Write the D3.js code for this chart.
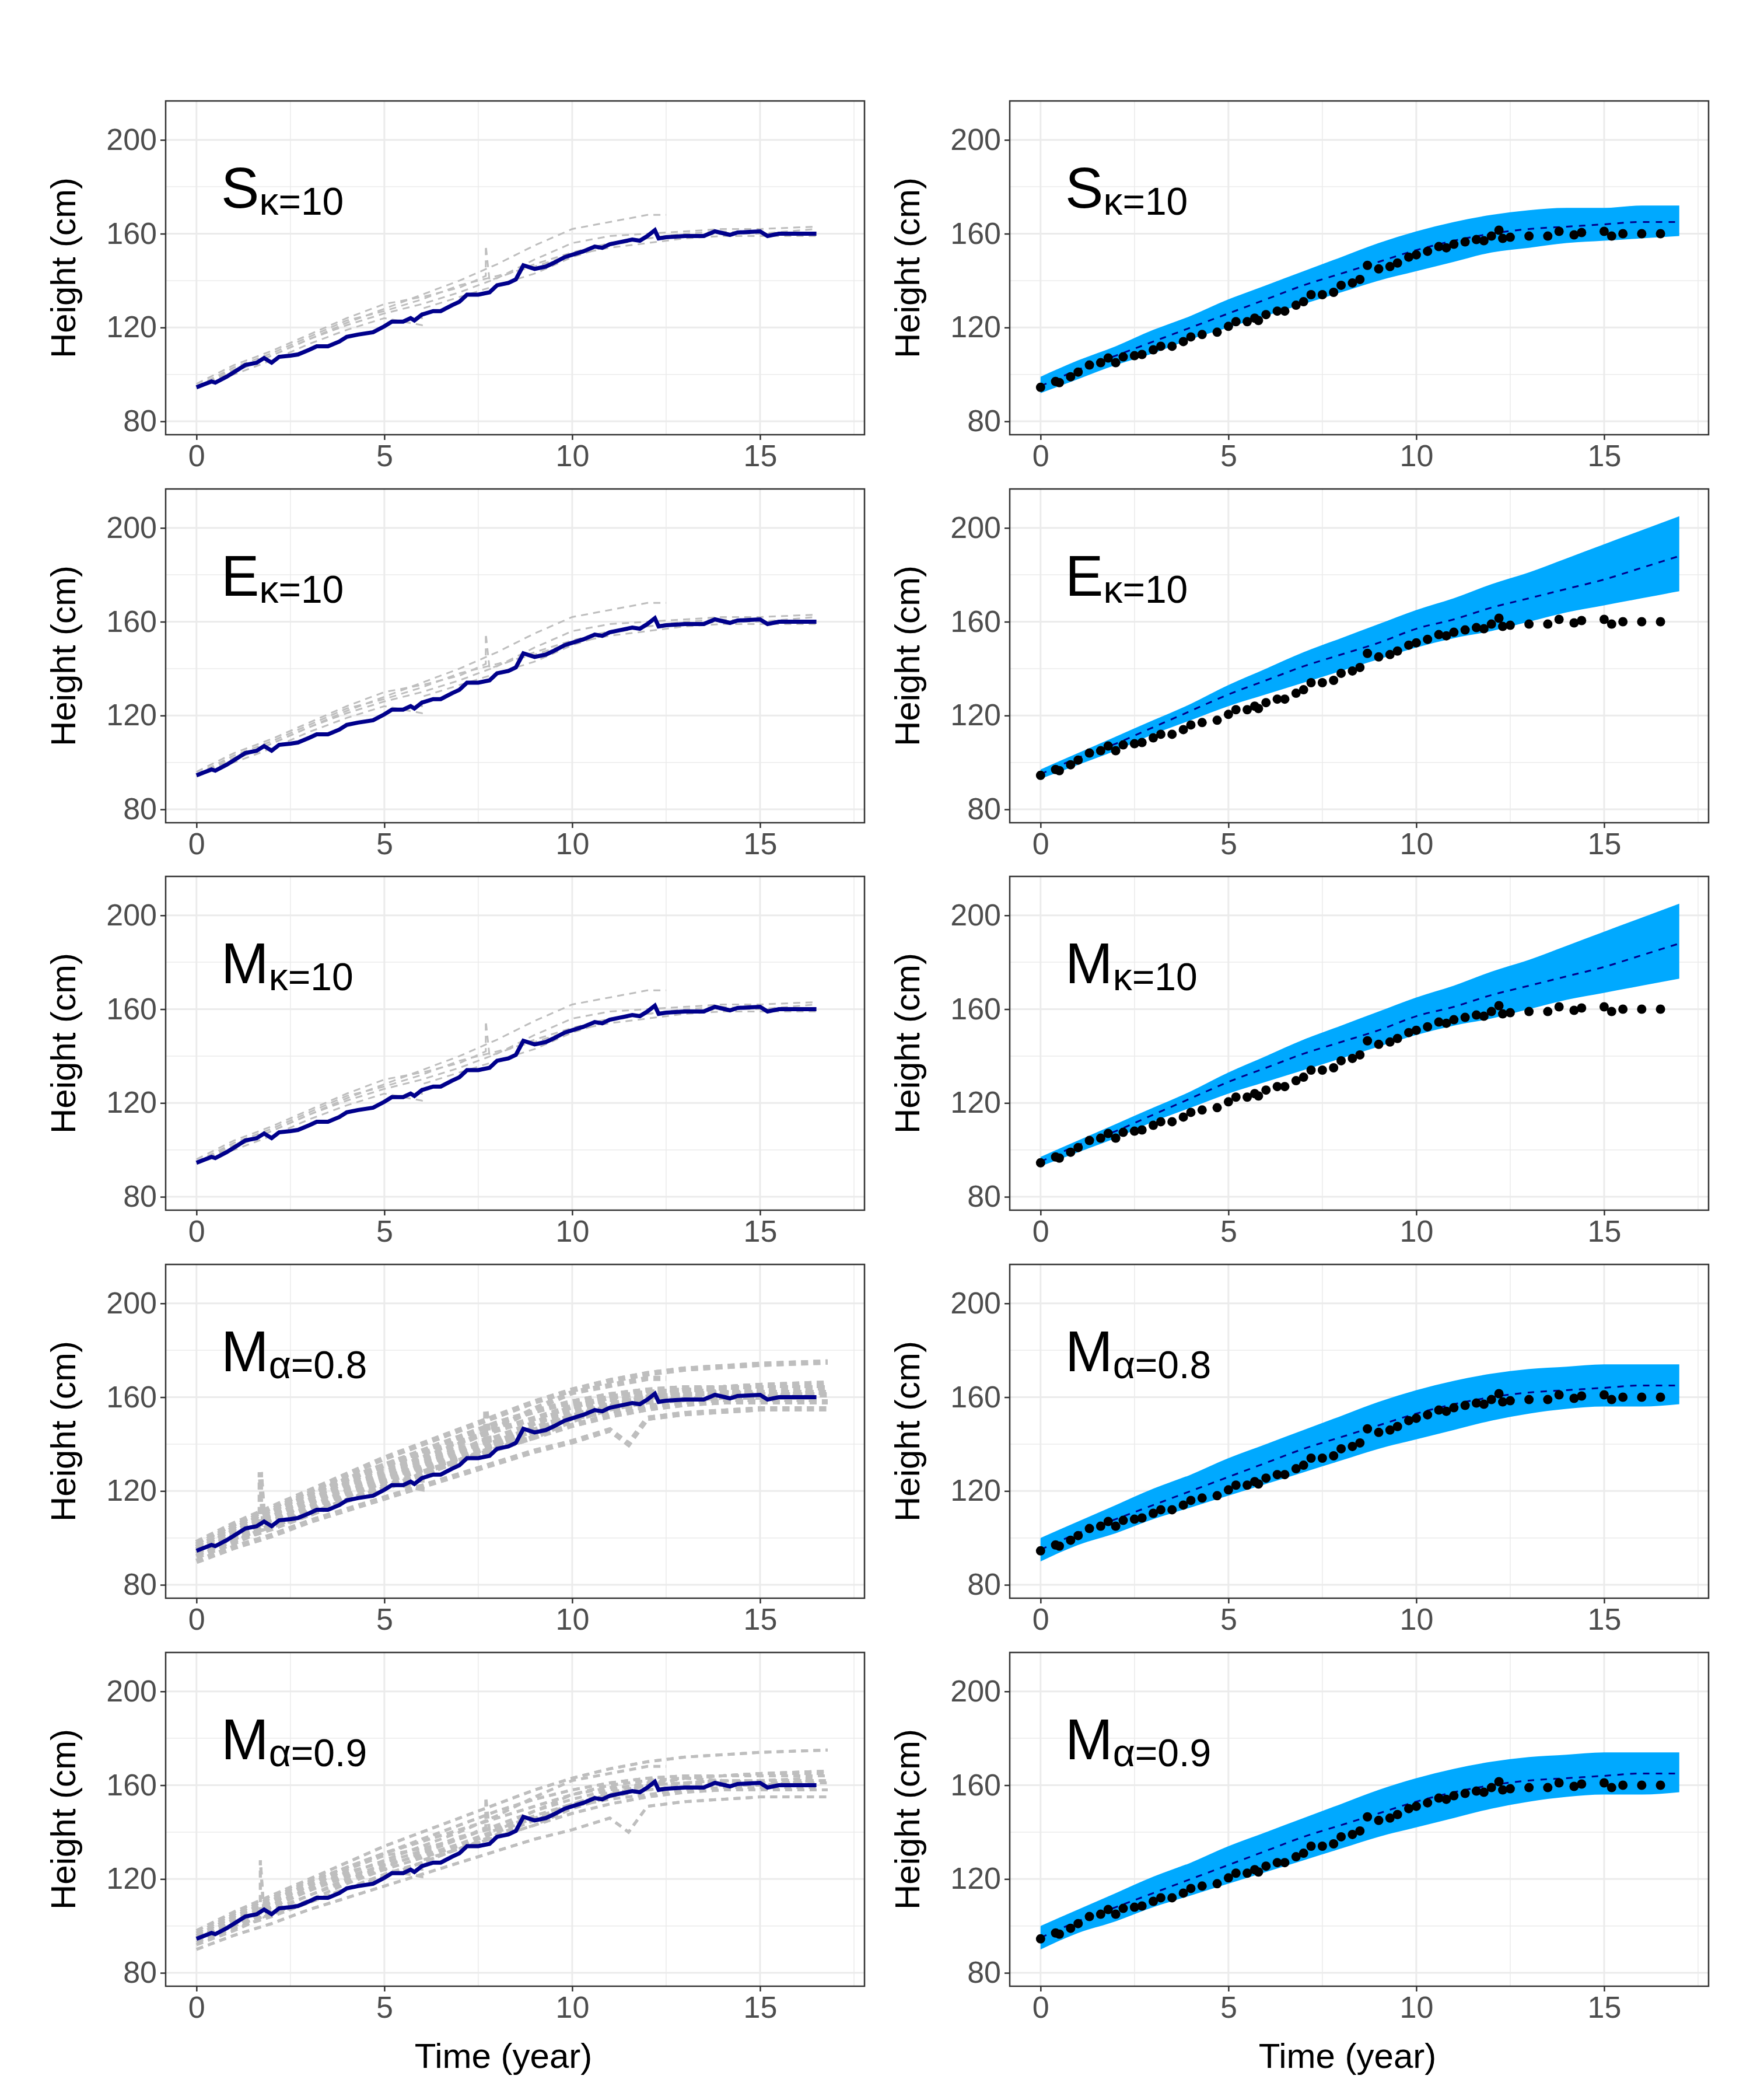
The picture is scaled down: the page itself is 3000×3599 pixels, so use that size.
<!DOCTYPE html>
<html><head><meta charset="utf-8">
<script src="https://cdn.jsdelivr.net/npm/d3@7"></script>
<style>body{margin:0;background:#fff}</style>
</head><body>
<div id="chart"></div>
<script>
// observed growth record (time in years, height in cm)
var obsTime = [0,0.4,0.5,0.8,1,1.3,1.6,1.8,2,2.2,2.5,2.7,3,3.2,3.5,3.8,4,4.3,4.7,5,5.2,5.5,5.7,5.8,6,6.3,6.5,6.8,7,7.2,7.5,7.8,8,8.3,8.5,8.7,9,9.3,9.5,9.8,10,10.3,10.6,10.8,11,11.3,11.6,11.8,12,12.2,12.3,12.5,13,13.5,13.8,14.2,14.4,15,15.2,15.5,16,16.5];
var obsHeight = [94.5,97,96.5,99,101,104,105,107,105,107.5,108,108.5,110.5,112,112,114,116,117,118,120.5,122.5,122.5,124,123,125.5,127,127,129.5,131,134,134,135,138,139,140.5,146.5,145,146,147.5,150,151,152.5,154.5,154,155.5,156.5,157.5,157,159,161.5,158,158.5,159,159,161,159.5,160.5,161,159,160,160,160];

// simulated trajectories (grey dashed)
var simsKappa = [
  [[0,95],[1,102],[2,108],[3,115],[4,122],[5,128],[6,134],[7,140],[8,147],[9,155],[10,162],[11,165],[12,168],[12.5,168]],
  [[0,96],[1,104],[2,110],[3,117],[4,124],[5,130],[6,133],[7,137],[7.7,142],[7.7,155],[7.8,140],[8.5,144],[9,147],[10,152],[11,156],[12,158],[13,160],[14,161],[15,160],[16.5,162]],
  [[0,94],[1,100],[2,106],[3,113],[4,119],[5,124],[6,121],[6,128],[7,133],[8,138],[9,143],[10,150],[11,155],[12,158],[13,159],[14,160],[16.5,160]],
  [[0,95],[1,101],[2,108],[3,115],[4,121],[5,126],[6,130],[7,135],[8,141],[9,149],[10,156],[11,159],[12,160],[13,161],[14,162],[15,162],[16.5,163]],
  [[0,95],[1,103],[2,109],[3,116],[4,123],[5,127],[6,132],[7,138],[8,142],[9,146],[10,151],[11,154],[12,156],[13,158],[14,159],[16.5,159]]
];
var simsAlphaExtra = [
  [[0,92],[1,98],[1.7,103],[1.7,128],[1.8,104],[3,110],[4,116],[5,121],[6,127],[7,133],[8,139],[9,145],[10,151],[11,156],[12,160],[13,163],[14,164],[15,165],[16.8,165]],
  [[0,98],[1,106],[2,113],[3,120],[4,127],[5,134],[6,140],[7,146],[8,152],[9,158],[10,163],[11,167],[12,170],[13,172],[14,173],[15,174],[16.8,175]],
  [[0,90],[1,96],[2,101],[3,107],[4,112],[5,117],[6,122],[7,127],[8,132],[9,137],[10,141],[11,146],[11.5,140],[12,151],[13,153],[14,154],[15,155],[16.8,155]],
  [[0,96],[1,104],[2,111],[3,118],[4,125],[5,131],[6,137],[7,143],[8,149],[9,154],[10,158],[11,161],[12,163],[13,164],[14,164],[15,165],[16.8,166]],
  [[0,93],[1,99],[2,104],[3,110],[4,116],[5,122],[6,127],[7,133],[8,138],[9,143],[10,148],[11,152],[12,155],[13,157],[14,158],[15,158],[16.8,158]],
  [[0,97],[1,105],[2,112],[3,119],[4,125],[5,131],[6,136],[7,141],[8,146],[9,151],[10,156],[11,160],[12,162],[13,163],[14,162],[15,162],[16.8,162]],
  [[0,94],[1,101],[2,107],[3,113],[4,120],[5,125],[6,131],[7,137],[8,143],[9,149],[10,154],[11,158],[12,161],[13,163],[14,164],[15,164],[16.8,164]],
  [[0,95],[1,100],[2,105],[3,111],[4,118],[5,124],[6,129],[7,134],[8,140],[9,146],[10,152],[11,157],[12,160],[13,161],[14,162],[15,161],[16.8,161]]
];

// predicted mean and 95% band at t = 0..17
var bandTime = [0,1,2,3,4,5,6,7,8,9,10,11,12,13,14,15,16,17];
var satMean  = [95,102,108,114,120,126,132,138,143,148,153,157,160,162,163,164,165,165];
var satLow   = [92,98,104,109,115,120,125,130,135,140,144,148,152,154,156,157,158,159];
var satHigh  = [99,106,112,119,125,132,138,144,150,156,161,165,168,170,171,171,172,172];
var alpLow   = [90,97,102,108,113,118,123,128,133,138,142,146,150,153,155,156,156,157];
var alpHigh  = [100,107,114,121,127,134,140,146,152,158,163,167,170,172,173,174,174,174];
var linMean  = [95,102,108,115,122,129,135,141,146,151,157,161,166,170,174,178,183,188];
var linLow   = [93,99,105,112,118,124,129,134,139,144,149,153,156,160,164,167,170,173];
var linHigh  = [97,104,111,118,125,133,140,147,153,159,165,170,176,181,187,193,199,205];

var labels = [["S","κ=10"],["E","κ=10"],["M","κ=10"],["M","α=0.8"],["M","α=0.9"]];

var W = 3000, H = 3599;
var svg = d3.select("#chart").append("svg").attr("width", W).attr("height", H)
  .style("font-family", "Liberation Sans, Arial, sans-serif");

var rowTops = [173, 838, 1502, 2167, 2832];
var colLefts = [284, 1731];
var pw = 1198, ph = 572;

function panel(row, col) {
  var g = svg.append("g").attr("transform", `translate(${colLefts[col]},${rowTops[row]})`);
  var x = d3.scaleLinear().domain([-0.82, 17.78]).range([0, pw]);
  var y = d3.scaleLinear().domain([74.3, 216.6]).range([ph, 0]);

  // grid
  [100,140,180].forEach(v => g.append("line").attr("x1",0).attr("x2",pw).attr("y1",y(v)).attr("y2",y(v)).attr("stroke","#ebebeb").attr("stroke-width",1.5));
  [2.5,7.5,12.5,17.5].forEach(v => g.append("line").attr("y1",0).attr("y2",ph).attr("x1",x(v)).attr("x2",x(v)).attr("stroke","#ebebeb").attr("stroke-width",1.5));
  [80,120,160,200].forEach(v => g.append("line").attr("x1",0).attr("x2",pw).attr("y1",y(v)).attr("y2",y(v)).attr("stroke","#ebebeb").attr("stroke-width",3));
  [0,5,10,15].forEach(v => g.append("line").attr("y1",0).attr("y2",ph).attr("x1",x(v)).attr("x2",x(v)).attr("stroke","#ebebeb").attr("stroke-width",3));

  var line = d3.line().x(d => x(d[0])).y(d => y(d[1]));
  var obs = obsTime.map((t, i) => [t, obsHeight[i]]);

  if (col === 0) {
    var sims = row < 3 ? simsKappa : simsKappa.concat(simsAlphaExtra, simsAlphaExtra.slice(0, 6));
    g.selectAll(".sim").data(sims).enter().append("path")
      .attr("d", line).attr("fill","none").attr("stroke","#bebebe")
      .attr("stroke-width", row === 3 ? 9 : (row === 4 ? 5 : 3)).attr("stroke-dasharray","12,9");
    g.append("path").attr("d", line(obs)).attr("fill","none").attr("stroke","#00008b").attr("stroke-width",7);
  } else {
    var lin = row === 1 || row === 2;
    var lo = lin ? linLow : (row >= 3 ? alpLow : satLow);
    var hi = lin ? linHigh : (row >= 3 ? alpHigh : satHigh);
    var mn = lin ? linMean : satMean;
    var area = d3.area().x((d, i) => x(bandTime[i])).y0((d, i) => y(lo[i])).y1((d, i) => y(hi[i])).curve(d3.curveMonotoneX);
    g.append("path").attr("d", area(bandTime)).attr("fill","#00a9ff");
    g.append("path").attr("d", d3.line().curve(d3.curveMonotoneX)(bandTime.map((t, i) => [x(t), y(mn[i])])))
      .attr("fill","none").attr("stroke","#00008b").attr("stroke-width",3).attr("stroke-dasharray","11,11");
    g.selectAll(".pt").data(obs).enter().append("circle")
      .attr("cx", d => x(d[0])).attr("cy", d => y(d[1])).attr("r", 8).attr("fill","#000");
  }

  g.append("rect").attr("width",pw).attr("height",ph).attr("fill","none").attr("stroke","#333").attr("stroke-width",2.5);

  var yAx = g.append("g").call(d3.axisLeft(y).tickValues([80,120,160,200]).tickSize(9).tickPadding(6));
  var xAx = g.append("g").attr("transform",`translate(0,${ph})`).call(d3.axisBottom(x).tickValues([0,5,10,15]).tickSize(9).tickPadding(8));
  [yAx, xAx].forEach(a => {
    a.select(".domain").remove();
    a.selectAll("line").attr("stroke","#333").attr("stroke-width",2.5);
    a.selectAll("text").attr("fill","#4d4d4d").style("font-size","52px").style("font-family","Liberation Sans, Arial, sans-serif");
  });

  g.append("text").attr("transform",`translate(-155,${ph/2}) rotate(-90)`).attr("text-anchor","middle")
    .style("font-size","60px").text("Height (cm)");
  if (row === 4) g.append("text").attr("x", pw/2 - 20).attr("y", ph + 140).attr("text-anchor","middle").style("font-size","60px").text("Time (year)");

  var lab = g.append("text").attr("x", 95).attr("y", 183).style("font-size","98px");
  lab.append("tspan").text(labels[row][0]);
  lab.append("tspan").attr("dy", 12).style("font-size","66px").text(labels[row][1]);
}

for (var r = 0; r < 5; r++) for (var c = 0; c < 2; c++) panel(r, c);
</script>
</body></html>
